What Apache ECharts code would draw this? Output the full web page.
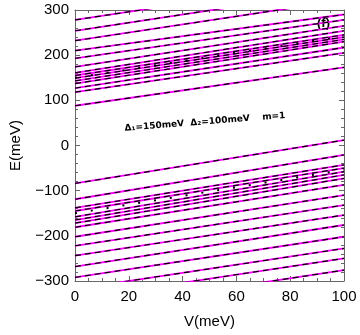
<!DOCTYPE html>
<html>
<head>
<meta charset="utf-8">
<script src="https://cdn.jsdelivr.net/npm/echarts@6/dist/echarts.min.js"></script>
<style>
  html, body { margin: 0; padding: 0; background: #fff; }
  #chart { width: 360px; height: 335px; }
</style>
</head>
<body>
<div id="chart"></div>
<script>
// energy of each level at V = 0 and V = 100 meV
const vEnds = [0, 100]
const upperE0 = [278, 254, 232, 210, 193, 174, 161, 155, 149, 143, 137, 127, 118, 88]
const upperE100 = [368, 344, 322, 290, 278, 265, 254, 245, 240, 235, 230, 217, 205, 173]
const lowerE0 = [-84, -119, -138, -145, -158, -165, -172, -181, -202, -222, -244, -268, -292, -318, -340, -366]
const lowerE100 = [12, -21, -43, -50, -58, -65, -73, -87, -110, -132, -154, -176, -202, -228, -250, -276]
// dotted gap edges
const dotE0 = [150, -150]
const dotE100 = [242, -54]

const xTicks = [0, 20, 40, 60, 80, 100]
const yTicks = [-300, -200, -100, 0, 100, 200, 300]

let chart = echarts.init(document.getElementById('chart'))

let series = []
function addLevel(e0, e1) {
    let pts = [[vEnds[0], e0], [vEnds[1], e1]]
    series.push({
        type: 'line', data: pts, showSymbol: false, silent: true,
        lineStyle: { color: '#ff00ff', width: 1.8 }
    })
    series.push({
        type: 'line', data: pts, showSymbol: false, silent: true,
        lineStyle: { color: '#000', width: 1.2, type: [6, 4] }
    })
}
upperE0.forEach((e, i) => addLevel(e, upperE100[i]))
lowerE0.forEach((e, i) => addLevel(e, lowerE100[i]))
dotE0.forEach((e, i) => {
    series.push({
        type: 'line', data: [[vEnds[0], e], [vEnds[1], dotE100[i]]],
        showSymbol: false, silent: true,
        lineStyle: { color: '#000', width: 2, type: [2, 14] }
    })
})

const frame = { show: true, onZero: false, lineStyle: { color: '#666', width: 1 } }
const tick = { inside: true, length: 5, lineStyle: { color: '#666' } }
const labelFont = { fontFamily: 'Liberation Sans', fontSize: 15, color: '#000' }

let option = {
    animation: false,
    grid: { left: 72, right: 16, top: 10, bottom: 54 },
    xAxis: [{
        type: 'value', min: 0, max: 100, interval: 20,
        name: 'V(meV)', nameLocation: 'middle', nameGap: 33,
        nameTextStyle: labelFont,
        axisLine: frame,
        axisTick: tick,
        minorTick: { show: true, splitNumber: 4, length: 3, lineStyle: { color: '#666' } },
        axisLabel: Object.assign({ margin: 8, formatter: v => xTicks.includes(v) ? String(v) : '' }, labelFont),
        splitLine: { show: false }
    }, {
        type: 'value', min: 0, max: 100, interval: 20, position: 'top',
        axisLine: frame,
        axisTick: tick,
        minorTick: { show: true, splitNumber: 4, length: 3, lineStyle: { color: '#666' } },
        axisLabel: { show: false },
        splitLine: { show: false }
    }],
    yAxis: [{
        type: 'value', min: -300, max: 300, interval: 100,
        name: 'E(meV)', nameLocation: 'middle', nameGap: 52, nameRotate: 90,
        nameTextStyle: labelFont,
        axisLine: frame,
        axisTick: tick,
        minorTick: { show: true, splitNumber: 5, length: 3, lineStyle: { color: '#666' } },
        axisLabel: Object.assign({ margin: 6, formatter: v => yTicks.includes(v) ? String(v).replace('-', '\u2212') : '' }, labelFont),
        splitLine: { show: false }
    }, {
        type: 'value', min: -300, max: 300, interval: 100, position: 'right',
        axisLine: frame,
        axisTick: tick,
        minorTick: { show: true, splitNumber: 5, length: 3, lineStyle: { color: '#666' } },
        axisLabel: { show: false },
        splitLine: { show: false }
    }],
    graphic: [{
        type: 'text', left: 317, top: 17,
        style: { text: '(f)', font: 'bold 13px "Liberation Sans"', fill: '#000' }
    }, {
        type: 'text', x: 205, y: 122, rotation: 0.08,
        style: {
            text: 'Δ\u2081=150meV  Δ\u2082=100meV    m=1',
            font: 'bold 9px "DejaVu Sans"', fill: '#000',
            align: 'center', verticalAlign: 'middle'
        }
    }],
    series: series
}
chart.setOption(option)
</script>
</body>
</html>
